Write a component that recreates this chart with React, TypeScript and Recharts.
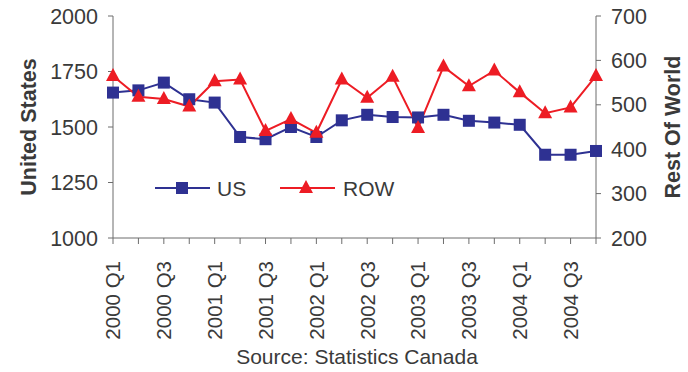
import React from "react";
import {
  LineChart,
  Line,
  XAxis,
  YAxis,
  Label,
} from "recharts";

const quarters = [
  "2000 Q1", "2000 Q2", "2000 Q3", "2000 Q4",
  "2001 Q1", "2001 Q2", "2001 Q3", "2001 Q4",
  "2002 Q1", "2002 Q2", "2002 Q3", "2002 Q4",
  "2003 Q1", "2003 Q2", "2003 Q3", "2003 Q4",
  "2004 Q1", "2004 Q2", "2004 Q3", "2004 Q4",
];

const usValues = [
  1655, 1665, 1700, 1625, 1610, 1455, 1445, 1500, 1455, 1530,
  1555, 1545, 1543, 1555, 1528, 1520, 1510, 1375, 1375, 1392,
];

const rowValues = [
  565, 518, 513, 496, 553, 557, 441, 468, 437, 557,
  516, 563, 448, 586, 542, 577, 528, 481, 494, 565,
];

const usTicks = [1000, 1250, 1500, 1750, 2000];
const rowTicks = [200, 300, 400, 500, 600, 700];

const US_COLOR = "#2e3192";
const ROW_COLOR = "#ed1c24";
const AXIS_COLOR = "#6d6d6d";
const TEXT_COLOR = "#3a3a3a";
const FONT = "'Liberation Sans', Arial, sans-serif";

const data = quarters.map((q, i) => ({
  quarter: q,
  us: usValues[i],
  row: rowValues[i],
}));

function SquareDot(props: any) {
  const { cx, cy } = props;
  if (cx == null || cy == null) return null;
  return <rect x={cx - 6} y={cy - 6} width={12} height={12} fill={US_COLOR} />;
}

function TriangleDot(props: any) {
  const { cx, cy } = props;
  if (cx == null || cy == null) return null;
  return (
    <polygon
      points={`${cx},${cy - 8} ${cx + 7},${cy + 5} ${cx - 7},${cy + 5}`}
      fill={ROW_COLOR}
    />
  );
}

function QuarterTick(props: any) {
  const { x, y, payload, index } = props;
  if (index % 2 !== 0) return <g />;
  return (
    <text
      x={x}
      y={y + 15}
      transform={`rotate(-90 ${x} ${y + 15})`}
      textAnchor="end"
      dy="0.36em"
      fill={TEXT_COLOR}
      fontSize={20.5}
      fontFamily={FONT}
    >
      {payload.value}
    </text>
  );
}

// legend sits inside the plot, so it is drawn over the chart instead of via <Legend>
function LegendBox() {
  return (
    <svg width={260} height={30}>
      <line x1={5} y1={14} x2={60} y2={14} stroke={US_COLOR} strokeWidth={2} />
      <rect x={26} y={8} width={12} height={12} fill={US_COLOR} />
      <text x={67} y={21.5} fontSize={21} fill={TEXT_COLOR} fontFamily={FONT}>US</text>
      <line x1={130} y1={14} x2={185} y2={14} stroke={ROW_COLOR} strokeWidth={2} />
      <polygon points="156,6 163,19 149,19" fill={ROW_COLOR} />
      <text x={193} y={21.5} fontSize={21} fill={TEXT_COLOR} fontFamily={FONT}>ROW</text>
    </svg>
  );
}

function SideTitle(props: any) {
  const { viewBox, value, side } = props;
  const cx = side === "left" ? 28 : 672;
  const cy = viewBox.y + viewBox.height / 2;
  return (
    <text
      x={cx}
      y={cy}
      transform={`rotate(-90 ${cx} ${cy})`}
      textAnchor="middle"
      dy="0.36em"
      fontSize={21.5}
      fontWeight="bold"
      fill={TEXT_COLOR}
      fontFamily={FONT}
    >
      {value}
    </text>
  );
}

export default function App() {
  return (
    <div style={{ position: "absolute", left: 0, top: 0, width: 688, height: 372, background: "#fff" }}>
      <LineChart
        width={688}
        height={372}
        data={data}
        margin={{ top: 16, right: 0, bottom: 34, left: 0 }}
      >
        <XAxis
          dataKey="quarter"
          interval={0}
          tick={<QuarterTick />}
          tickSize={6}
          axisLine={{ stroke: AXIS_COLOR }}
          tickLine={{ stroke: AXIS_COLOR }}
          height={100}
        />
        <YAxis
          yAxisId="us"
          orientation="left"
          domain={[1000, 2000]}
          ticks={usTicks}
          width={113}
          tickSize={5}
          tickMargin={10}
          axisLine={{ stroke: AXIS_COLOR }}
          tickLine={{ stroke: AXIS_COLOR }}
          tick={{ fill: TEXT_COLOR, fontSize: 21.5, fontFamily: FONT }}
        >
          <Label content={<SideTitle value="United States" side="left" />} />
        </YAxis>
        <YAxis
          yAxisId="row"
          orientation="right"
          domain={[200, 700]}
          ticks={rowTicks}
          width={92}
          tickSize={5}
          tickMargin={10}
          axisLine={{ stroke: AXIS_COLOR }}
          tickLine={{ stroke: AXIS_COLOR }}
          tick={{ fill: TEXT_COLOR, fontSize: 21.5, fontFamily: FONT }}
        >
          <Label content={<SideTitle value="Rest Of World" side="right" />} />
        </YAxis>
        <Line
          yAxisId="us"
          dataKey="us"
          name="US"
          stroke={US_COLOR}
          strokeWidth={2}
          dot={<SquareDot />}
          activeDot={false}
          isAnimationActive={false}
        />
        <Line
          yAxisId="row"
          dataKey="row"
          name="ROW"
          stroke={ROW_COLOR}
          strokeWidth={2}
          dot={<TriangleDot />}
          activeDot={false}
          isAnimationActive={false}
        />
      </LineChart>
      <div style={{ position: "absolute", left: 150, top: 174 }}>
        <LegendBox />
      </div>
      <div
        style={{
          position: "absolute",
          left: 0,
          width: 714,
          top: 345,
          textAlign: "center",
          fontSize: 21,
          color: TEXT_COLOR,
          fontFamily: FONT,
        }}
      >
        Source: Statistics Canada
      </div>
    </div>
  );
}
